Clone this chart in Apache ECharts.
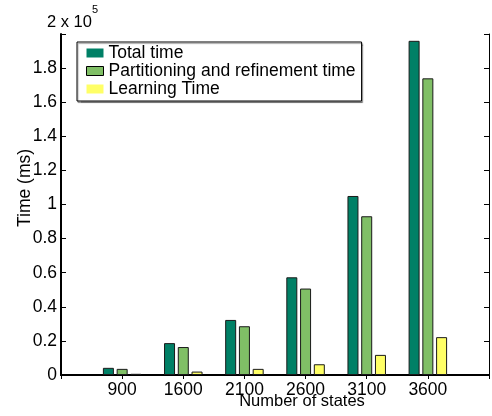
<!DOCTYPE html>
<html>
<head>
<meta charset="utf-8">
<script src="https://cdn.jsdelivr.net/npm/echarts@6/dist/echarts.min.js"></script>
<style>html,body{margin:0;padding:0;background:#fff}#c{width:492px;height:416px}</style>
</head>
<body>
<div id="c"></div>
<script>
const categories = ['900', '1600', '2100', '2600', '3100', '3600'];
const totalTime = [4200, 18700, 32300, 57300, 105000, 196000];
const partitionTime = [3600, 16400, 28600, 50700, 93100, 174000];
const learningTime = [700, 2000, 3600, 6300, 11800, 22200];
const yTickLabels = ['0', '0.2', '0.4', '0.6', '0.8', '1', '1.2', '1.4', '1.6', '1.8', ''];
const seriesNames = ['Total time', 'Partitioning and refinement time', 'Learning Time'];

const FONT = 'Liberation Sans';
const axisCats = [''].concat(categories, ['']);
const pad = arr => [null].concat(arr, [null]);
const colors = ['#008066', '#80bf66', '#ffff66'];

const chart = echarts.init(document.getElementById('c'), null, {renderer: 'canvas'});
const barBase = {
  type: 'bar', barWidth: 11, barGap: '25%',
  itemStyle: {borderColor: '#1a1a1a', borderWidth: 1},
  emphasis: {disabled: true}
};
chart.setOption({
  animation: false,
  textStyle: {fontFamily: FONT},
  grid: {left: 61, top: 34, width: 434, bottom: 41, containLabel: false},
  legend: {
    left: 77, top: 42, orient: 'vertical',
    padding: [2, 6, 3, 9],
    backgroundColor: '#fff', borderColor: '#000', borderWidth: 1,
    shadowColor: 'rgba(0,0,0,0.35)', shadowOffsetX: 1, shadowOffsetY: 1.5, shadowBlur: 1,
    itemWidth: 17, itemHeight: 9, itemGap: 0, itemTextGap: 5,
    icon: 'rect',
    textStyle: {fontFamily: FONT, fontSize: 17.5, color: '#000', lineHeight: 15},
    selectedMode: false,
    data: [
      {name: seriesNames[0], itemStyle: {borderWidth: 0}},
      {name: seriesNames[1], itemStyle: {borderWidth: 1, borderColor: '#000'}},
      {name: seriesNames[2], itemStyle: {borderWidth: 0}}
    ]
  },
  xAxis: [{
    type: 'category', data: axisCats, boundaryGap: false, position: 'bottom',
    axisLine: {lineStyle: {color: '#000', width: 2}},
    axisTick: {show: true, inside: true, length: 5, lineStyle: {color: '#000'}},
    axisLabel: {fontFamily: FONT, fontSize: 17.5, color: '#000', margin: 6, interval: 0},
    splitLine: {show: false}
  }, {
    type: 'category', data: axisCats, boundaryGap: false, position: 'top',
    axisLine: {show: true, lineStyle: {color: '#000', width: 1}},
    axisTick: {show: true, inside: true, length: 4, lineStyle: {color: '#000'}},
    axisLabel: {show: false}, splitLine: {show: false}
  }],
  yAxis: [{
    type: 'value', min: 0, max: 200000, interval: 20000, position: 'left',
    axisLine: {show: true, lineStyle: {color: '#000', width: 2}},
    axisTick: {show: true, inside: true, length: 5, lineStyle: {color: '#000'}},
    axisLabel: {fontFamily: FONT, fontSize: 17.5, color: '#000', margin: 4,
      formatter: (v) => yTickLabels[Math.round(v / 20000)]},
    splitLine: {show: false}
  }, {
    type: 'value', min: 0, max: 200000, interval: 20000, position: 'right',
    axisLine: {show: true, lineStyle: {color: '#000', width: 1}},
    axisTick: {show: true, inside: true, length: 5, lineStyle: {color: '#000'}},
    axisLabel: {show: false}, splitLine: {show: false}
  }],
  graphic: [
    {type: 'text', left: 47, top: 14, style: {text: '2 x 10', fontFamily: FONT, fontSize: 16.5, fill: '#000'}},
    {type: 'text', left: 92, top: 4, style: {text: '5', fontFamily: FONT, fontSize: 11, fill: '#000'}},
    {type: 'text', x: 25, y: 188, rotation: Math.PI / 2,
      style: {text: 'Time (ms)', fontFamily: FONT, fontSize: 17.5, fill: '#000', align: 'center', verticalAlign: 'middle'}},
    {type: 'text', x: 302, y: 401,
      style: {text: 'Number of states', fontFamily: FONT, fontSize: 16.5, fill: '#000', align: 'center', verticalAlign: 'middle'}}
  ],
  series: [
    Object.assign({}, barBase, {name: seriesNames[0], data: pad(totalTime), itemStyle: Object.assign({}, barBase.itemStyle, {color: colors[0]})}),
    Object.assign({}, barBase, {name: seriesNames[1], data: pad(partitionTime), itemStyle: Object.assign({}, barBase.itemStyle, {color: colors[1]})}),
    Object.assign({}, barBase, {name: seriesNames[2], data: pad(learningTime), itemStyle: Object.assign({}, barBase.itemStyle, {color: colors[2]})})
  ]
});
</script>
</body>
</html>
